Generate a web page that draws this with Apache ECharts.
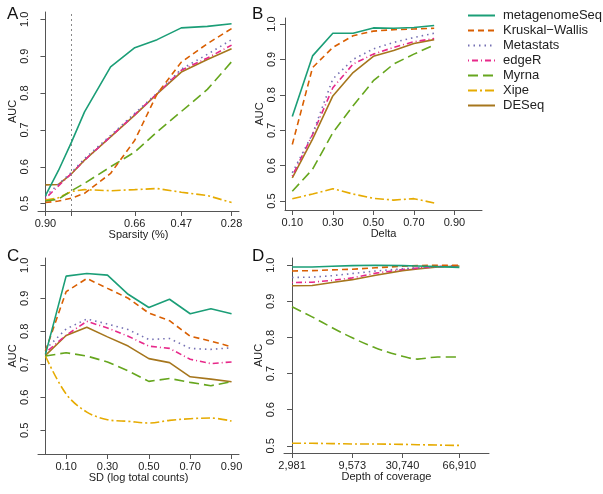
<!DOCTYPE html>
<html>
<head>
<meta charset="utf-8">
<script src="https://cdn.jsdelivr.net/npm/echarts@6/dist/echarts.min.js"></script>
<style>
html,body{margin:0;padding:0;background:#fff;}
#chart{width:603px;height:494px;}
</style>
</head>
<body>
<div id="chart"></div>
<script>
// ---------- DATA ----------
const methods = ['metagenomeSeq', 'Kruskal\u2212Wallis', 'Metastats', 'edgeR', 'Myrna', 'Xipe', 'DESeq'];

// Panel A: sparsity (position along axis, 0..100) and AUC
const sparsityPos = [0, 7, 14, 21, 35, 48, 60, 73, 87, 100];
const sparsityTickPos = [0, 14, 48, 73, 100];
const sparsityTickLabels = ['0.90', '', '0.66', '0.47', '0.28'];
const sparsityCutoff = 14;
const aucA_metagenomeSeq = [0.522, 0.59, 0.667, 0.749, 0.871, 0.923, 0.945, 0.977, 0.981, 0.988];
const aucA_kruskal = [0.503, 0.507, 0.515, 0.528, 0.582, 0.672, 0.798, 0.884, 0.934, 0.975];
const aucA_metastats = [0.52, 0.553, 0.585, 0.622, 0.685, 0.745, 0.80, 0.865, 0.905, 0.945];
const aucA_edgeR = [0.514, 0.548, 0.582, 0.618, 0.682, 0.742, 0.798, 0.862, 0.895, 0.93];
const aucA_myrna = [0.507, 0.512, 0.535, 0.555, 0.60, 0.64, 0.695, 0.75, 0.81, 0.885];
const aucA_xipe = [0.51, 0.516, 0.533, 0.538, 0.535, 0.538, 0.541, 0.531, 0.522, 0.503];
const aucA_deseq = [0.551, 0.552, 0.581, 0.618, 0.681, 0.74, 0.798, 0.857, 0.891, 0.92];

// Panel B: delta
const deltaX = [0.1, 0.2, 0.3, 0.4, 0.5, 0.6, 0.7, 0.8];
const deltaTicks = [0.1, 0.3, 0.5, 0.7, 0.9];
const aucB_metagenomeSeq = [0.739, 0.91, 0.974, 0.974, 0.989, 0.988, 0.99, 0.996];
const aucB_kruskal = [0.66, 0.877, 0.934, 0.967, 0.98, 0.984, 0.986, 0.988];
const aucB_metastats = [0.58, 0.69, 0.845, 0.90, 0.93, 0.948, 0.962, 0.974];
const aucB_edgeR = [0.571, 0.688, 0.82, 0.887, 0.915, 0.934, 0.95, 0.959];
const aucB_myrna = [0.528, 0.59, 0.693, 0.769, 0.84, 0.887, 0.915, 0.941];
const aucB_xipe = [0.507, 0.52, 0.535, 0.52, 0.508, 0.503, 0.507, 0.495];
const aucB_deseq = [0.566, 0.675, 0.797, 0.863, 0.909, 0.925, 0.945, 0.956];

// Panel C: SD (log total counts)
const sdX = [0, 0.1, 0.2, 0.3, 0.4, 0.5, 0.6, 0.7, 0.8, 0.9];
const sdTicks = [0.1, 0.3, 0.5, 0.7, 0.9];
const aucC_metagenomeSeq = [0.73, 0.967, 0.975, 0.97, 0.912, 0.872, 0.897, 0.853, 0.868, 0.853];
const aucC_kruskal = [0.74, 0.92, 0.96, 0.93, 0.90, 0.855, 0.832, 0.785, 0.77, 0.753];
const aucC_metastats = [0.745, 0.807, 0.837, 0.822, 0.805, 0.775, 0.778, 0.748, 0.745, 0.75];
const aucC_edgeR = [0.735, 0.788, 0.83, 0.81, 0.785, 0.755, 0.748, 0.715, 0.702, 0.707];
const aucC_myrna = [0.725, 0.735, 0.725, 0.707, 0.68, 0.648, 0.657, 0.645, 0.635, 0.647];
const aucC_xipe = [0.725, 0.61, 0.555, 0.532, 0.527, 0.522, 0.53, 0.535, 0.537, 0.528];
const aucC_deseq = [0.727, 0.787, 0.812, 0.783, 0.755, 0.717, 0.705, 0.662, 0.655, 0.647];

// Panel D: depth of coverage (position along axis, 0..100)
const depthPos = [0, 12, 24, 36, 50, 66, 75, 87, 100];
const depthTickPos = [0, 36, 66, 100];
const depthTickLabels = ['2,981', '9,573', '30,740', '66,910'];
const aucD_metagenomeSeq = [0.995, 0.995, 0.997, 0.999, 1.0, 0.999, 0.998, 0.996, 0.994];
const aucD_kruskal = [0.984, 0.985, 0.987, 0.989, 0.993, 0.997, 0.999, 1.0, 1.0];
const aucD_metastats = [0.966, 0.967, 0.971, 0.977, 0.984, 0.99, 0.993, 0.996, 0.999];
const aucD_edgeR = [0.952, 0.953, 0.958, 0.965, 0.978, 0.988, 0.992, 0.996, 0.999];
const aucD_myrna = [0.885, 0.857, 0.827, 0.799, 0.771, 0.748, 0.74, 0.746, 0.746];
const aucD_xipe = [0.507, 0.507, 0.506, 0.505, 0.505, 0.504, 0.503, 0.502, 0.501];
const aucD_deseq = [0.943, 0.944, 0.952, 0.96, 0.972, 0.985, 0.99, 0.995, 0.998];

const aucTicks = [0.5, 0.6, 0.7, 0.8, 0.9, 1.0];

// ---------- STYLE ----------
const FONT = '"Liberation Sans", Arial, Helvetica, sans-serif';
const colors = ['#1B9E77', '#D95F02', '#7570B3', '#E7298A', '#66A61E', '#E6AB02', '#A6761D'];
const dashes = ['solid', [6, 4], [1.5, 4], [1, 3, 6, 3], [10, 5], [9, 3, 2, 3], 'solid'];
const AXIS_COLOR = '#555';
const TEXT_COLOR = '#222';

const panels = [
  { x: sparsityPos, ys: [aucA_metagenomeSeq, aucA_kruskal, aucA_metastats, aucA_edgeR, aucA_myrna, aucA_xipe, aucA_deseq] },
  { x: deltaX, ys: [aucB_metagenomeSeq, aucB_kruskal, aucB_metastats, aucB_edgeR, aucB_myrna, aucB_xipe, aucB_deseq] },
  { x: sdX, ys: [aucC_metagenomeSeq, aucC_kruskal, aucC_metastats, aucC_edgeR, aucC_myrna, aucC_xipe, aucC_deseq] },
  { x: depthPos, ys: [aucD_metagenomeSeq, aucD_kruskal, aucD_metastats, aucD_edgeR, aucD_myrna, aucD_xipe, aucD_deseq] }
];

const grids = [
  { left: 38, top: 12, width: 201, height: 199 },
  { left: 285, top: 18, width: 197, height: 192 },
  { left: 38, top: 258, width: 201, height: 196 },
  { left: 284, top: 258, width: 205, height: 195 }
];

function lookup(posArr, labArr) {
  return function (v) {
    for (let i = 0; i < posArr.length; i++) if (Math.abs(posArr[i] - v) < 1e-6) return labArr[i];
    return '';
  };
}

const xRanges = [[-4, 104], [0.064, 1.036], [-0.036, 0.936], [-4.8, 117.7]];
const yRanges = [[0.48, 1.02], [0.475, 1.017], [0.428, 1.022], [0.48, 1.02]];
const xNames = ['Sparsity (%)', 'Delta', 'SD (log total counts)', 'Depth of coverage'];
const xTickVals = [sparsityTickPos, deltaTicks, sdTicks, depthTickPos];
const xLabelVals = [sparsityTickPos.filter((v, i) => sparsityTickLabels[i] !== ''), deltaTicks, sdTicks, depthTickPos];
const xFormatters = [
  lookup(sparsityTickPos, sparsityTickLabels),
  v => v.toFixed(2),
  v => v.toFixed(2),
  lookup(depthTickPos, depthTickLabels)
];

const axisLineCommon = { show: true, lineStyle: { color: AXIS_COLOR, width: 1 } };
const xAxes = [], yAxes = [];
for (let p = 0; p < 4; p++) {
  xAxes.push({
    type: 'value', gridIndex: p, min: xRanges[p][0], max: xRanges[p][1],
    splitLine: { show: false },
    axisLine: axisLineCommon,
    axisTick: { show: true, inside: false, length: 5, customValues: xTickVals[p], lineStyle: { color: AXIS_COLOR } },
    axisLabel: { customValues: xLabelVals[p], formatter: xFormatters[p], margin: 7, fontSize: 11, color: TEXT_COLOR, fontFamily: FONT, showMinLabel: true, showMaxLabel: true, hideOverlap: false },
    name: xNames[p], nameLocation: 'middle', nameGap: 10,
    nameTextStyle: { fontSize: 11, color: TEXT_COLOR, fontFamily: FONT, verticalAlign: 'top' }
  });
  yAxes.push({
    type: 'value', gridIndex: p, min: yRanges[p][0], max: yRanges[p][1],
    splitLine: { show: false },
    axisLine: axisLineCommon,
    axisTick: { show: true, inside: false, length: 5, customValues: aucTicks, lineStyle: { color: AXIS_COLOR } },
    axisLabel: { customValues: aucTicks, formatter: v => v.toFixed(1), rotate: 90, margin: 8, fontSize: 11, color: TEXT_COLOR, fontFamily: FONT, showMinLabel: true, showMaxLabel: true },
    name: 'AUC', nameLocation: 'middle', nameGap: 16, nameRotate: 90,
    nameTextStyle: { fontSize: 11, color: TEXT_COLOR, fontFamily: FONT }
  });
}

const series = [];
for (let p = 0; p < 4; p++) {
  for (let m = 0; m < methods.length; m++) {
    const s = {
      type: 'line', name: methods[m], xAxisIndex: p, yAxisIndex: p,
      data: panels[p].x.map((xv, i) => [xv, panels[p].ys[m][i]]),
      symbol: 'none', silent: true, animation: false,
      smooth: (p === 2 && m === 5) || (p === 3 && m === 4) ? 0.35 : false,
      lineStyle: { color: colors[m], width: 1.6, type: dashes[m] },
      itemStyle: { color: colors[m] },
      z: 10 - m
    };
    if (p === 0 && m === 0) {
      s.markLine = {
        silent: true, symbol: 'none', label: { show: false },
        lineStyle: { color: '#888', type: [2, 3], width: 1 },
        data: [{ xAxis: sparsityCutoff }]
      };
    }
    series.push(s);
  }
}

const option = {
  backgroundColor: '#fff',
  animation: false,
  textStyle: { fontFamily: FONT },
  grid: grids.map(g => Object.assign({ containLabel: false }, g)),
  xAxis: xAxes,
  yAxis: yAxes,
  legend: {
    orient: 'vertical', left: 462, top: 4,
    itemWidth: 27, itemHeight: 10, itemGap: 2,
    itemStyle: { opacity: 0, borderWidth: 0 },
    lineStyle: { width: 2 },
    textStyle: { fontSize: 13, lineHeight: 13, color: TEXT_COLOR, fontFamily: FONT, padding: [0, 0, 0, 3] },
    data: methods, selectedMode: false
  },
  graphic: [
    { type: 'text', left: 7, top: 6, style: { text: 'A', font: '17px ' + FONT, fill: '#111' } },
    { type: 'text', left: 252, top: 6, style: { text: 'B', font: '17px ' + FONT, fill: '#111' } },
    { type: 'text', left: 7, top: 248, style: { text: 'C', font: '17px ' + FONT, fill: '#111' } },
    { type: 'text', left: 252, top: 248, style: { text: 'D', font: '17px ' + FONT, fill: '#111' } }
  ],
  series: series
};

const chart = echarts.init(document.getElementById('chart'), null, { renderer: 'canvas' });
chart.setOption(option);
</script>
</body>
</html>
